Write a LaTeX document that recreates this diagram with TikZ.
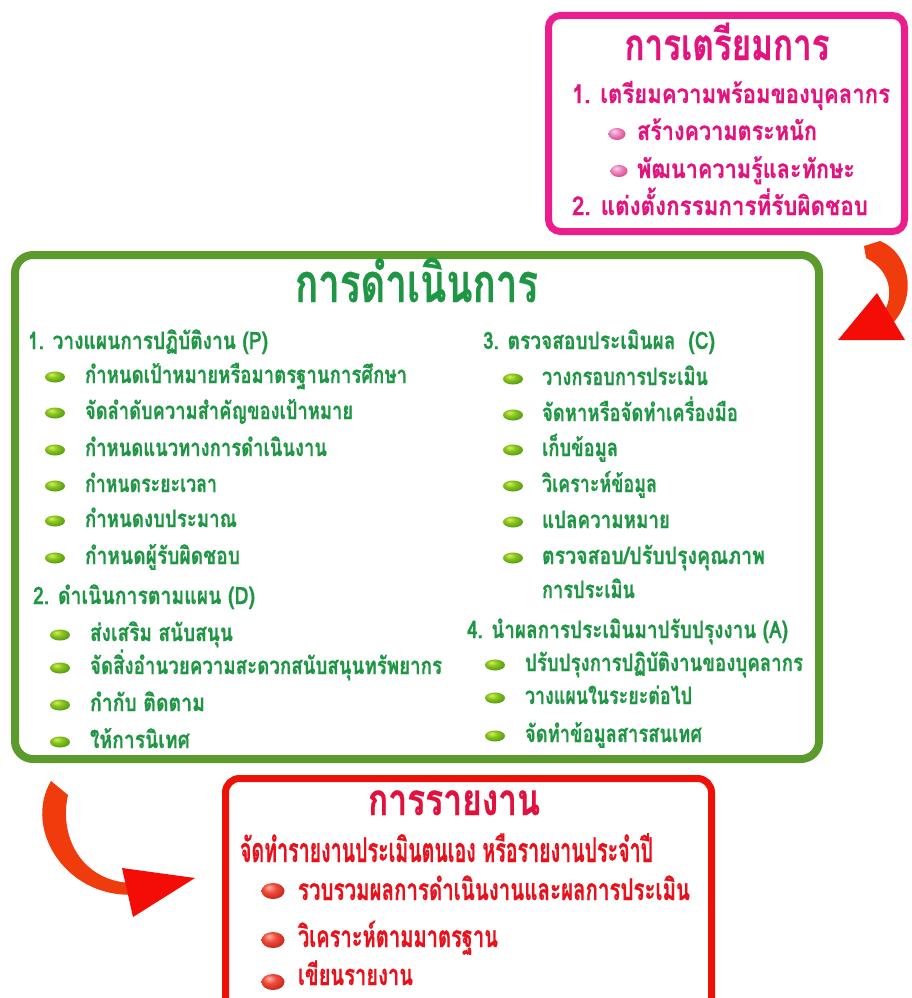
\documentclass[tikz,border=0pt]{standalone}
\usepackage{fontspec}
\usepackage{graphicx}
\usetikzlibrary{shapes.geometric}
\newfontfamily\thaib[Script=Thai, BoldFeatures={FakeBold=0.5}]{Loma}
\definecolor{pinkline}{HTML}{EC1E8E}
\definecolor{pinktext}{HTML}{E3137D}
\definecolor{greenline}{HTML}{5A9B2B}
\definecolor{greentext}{HTML}{1E9643}
\definecolor{redline}{HTML}{EE1108}
\definecolor{redtext}{HTML}{E8101A}
\definecolor{redtitle}{HTML}{E2103C}
\definecolor{arrbody}{HTML}{F03C0C}
\definecolor{arrhead}{HTML}{F40C06}
\definecolor{gbA}{HTML}{D8EE5C}
\definecolor{gbB}{HTML}{88C41C}
\definecolor{gbC}{HTML}{3F8C12}
\definecolor{pbA}{HTML}{FCDCEC}
\definecolor{pbB}{HTML}{F088BE}
\definecolor{pbC}{HTML}{D2367E}
\definecolor{rbA}{HTML}{FFB8A8}
\definecolor{rbB}{HTML}{F04C3C}
\definecolor{rbC}{HTML}{B41C12}
\pgfdeclareradialshading{gshade}{\pgfpoint{-9bp}{12bp}}{color(0bp)=(gbA); color(14bp)=(gbB); color(36bp)=(gbC); color(60bp)=(gbC)}
\pgfdeclareradialshading{pshade}{\pgfpoint{-9bp}{12bp}}{color(0bp)=(pbA); color(14bp)=(pbB); color(36bp)=(pbC); color(60bp)=(pbC)}
\pgfdeclareradialshading{rshade}{\pgfpoint{-9bp}{12bp}}{color(0bp)=(rbA); color(14bp)=(rbB); color(36bp)=(rbC); color(60bp)=(rbC)}
\newcommand\tw[2]{\resizebox{#1pt}{\height}{#2}}
\tikzset{
  txt/.style={anchor=base west, inner sep=0pt, outer sep=0pt},
  ptxt/.style={txt, text=pinktext, font=\thaib\bfseries\fontsize{26}{30}\selectfont},
  gtxt/.style={txt, text=greentext, font=\thaib\bfseries\fontsize{24}{28}\selectfont},
  rtxt/.style={txt, text=redtext, font=\thaib\bfseries\fontsize{30}{34}\selectfont},
  ttl/.style={anchor=base, inner sep=0pt, outer sep=0pt},
  gball/.style={ellipse, inner sep=0pt, minimum width=20pt, minimum height=11pt, shade, shading=gshade},
  pball/.style={ellipse, inner sep=0pt, minimum width=17pt, minimum height=12pt, shade, shading=pshade},
  rball/.style={ellipse, inner sep=0pt, minimum width=23pt, minimum height=16pt, shade, shading=rshade},
}
\begin{document}
\begin{tikzpicture}[x=1pt,y=-1pt]
\useasboundingbox (0,0) rectangle (912,998);
% boxes
\draw[pinkline, line width=7pt, rounded corners=12pt, fill=white] (548.5,15.5) rectangle (904.5,231.5);
\draw[greenline, line width=8pt, rounded corners=18pt, fill=white] (15,255) rectangle (819,759);
\draw[redline, line width=7pt, rounded corners=14pt, fill=white] (225.5,778.5) rectangle (711.5,1030);
% arrows
\fill[arrbody] (864,246) -- (880,241) .. controls (908,252) and (919,294) .. (893,323) -- (877,322) .. controls (897,300) and (892,271) .. (866,258) -- cycle;
\fill[arrhead] (877,293) -- (905,340) -- (838,340) -- cycle;
\fill[arrbody] (51,781) -- (68,795) .. controls (58,840) and (85,886) .. (140,883) -- (142,894) .. controls (68,903) and (22,830) .. (51,781) -- cycle;
\fill[arrhead] (122,868) -- (195,878) -- (133,917) -- cycle;
% pink box
\node[ttl, text=pinktext, font=\thaib\bfseries\fontsize{44}{50}\selectfont] (pt) at (727,60) {\tw{205}{การเตรียมการ}};
\node[ptxt] (p1) at (572,103) {\tw{318}{1. เตรียมความพร้อมของบุคลากร}};
\node[pball] (pb1) at (617,134) {};
\node[ptxt] (p1a) at (637,140) {\tw{180}{สร้างความตระหนัก}};
\node[pball] (pb2) at (619,171) {};
\node[ptxt] (p1b) at (637,178) {\tw{218}{พัฒนาความรู้และทักษะ}};
\node[ptxt] (p2) at (572,215) {\tw{296}{2. แต่งตั้งกรรมการที่รับผิดชอบ}};
% green box
\node[ttl, text=greentext, font=\thaib\bfseries\fontsize{54}{60}\selectfont] (gt) at (416.5,302) {\tw{243}{การดำเนินการ}};
\node[gtxt] (g1) at (28,349) {\tw{240}{1. วางแผนการปฏิบัติงาน (P)}};
\node[gball] (gb11) at (55,377) {};
\node[gtxt] (g11) at (85,383) {\tw{322}{กำหนดเป้าหมายหรือมาตรฐานการศึกษา}};
\node[gball] (gb12) at (55,413) {};
\node[gtxt] (g12) at (85,419) {\tw{268}{จัดลำดับความสำคัญของเป้าหมาย}};
\node[gball] (gb13) at (55,450) {};
\node[gtxt] (g13) at (85,456) {\tw{242}{กำหนดแนวทางการดำเนินงาน}};
\node[gball] (gb14) at (55,486) {};
\node[gtxt] (g14) at (85,492) {\tw{132}{กำหนดระยะเวลา}};
\node[gball] (gb15) at (55,521) {};
\node[gtxt] (g15) at (85,527) {\tw{152}{กำหนดงบประมาณ}};
\node[gball] (gb16) at (55,558) {};
\node[gtxt] (g16) at (85,564) {\tw{155}{กำหนดผู้รับผิดชอบ}};
\node[gtxt] (g2) at (33,604) {\tw{222}{2. ดำเนินการตามแผน (D)}};
\node[gball] (gb21) at (60,635) {};
\node[gtxt] (g21) at (90,641) {\tw{143}{ส่งเสริม สนับสนุน}};
\node[gball] (gb22) at (60,668) {};
\node[gtxt] (g22) at (90,674) {\tw{352}{จัดสิ่งอำนวยความสะดวกสนับสนุนทรัพยากร}};
\node[gball] (gb23) at (60,705) {};
\node[gtxt] (g23) at (90,711) {\tw{115}{กำกับ ติดตาม}};
\node[gball] (gb24) at (60,742) {};
\node[gtxt] (g24) at (90,748) {\tw{100}{ให้การนิเทศ}};
\node[gtxt] (g3) at (483,349) {\tw{232}{3. ตรวจสอบประเมินผล\ \ (C)}};
\node[gball] (gb31) at (513,379) {};
\node[gtxt] (g31) at (542,385) {\tw{166}{วางกรอบการประเมิน}};
\node[gball] (gb32) at (513,415) {};
\node[gtxt] (g32) at (542,421) {\tw{196}{จัดหาหรือจัดทำเครื่องมือ}};
\node[gball] (gb33) at (513,450) {};
\node[gtxt] (g33) at (542,456) {\tw{76}{เก็บข้อมูล}};
\node[gball] (gb34) at (513,486) {};
\node[gtxt] (g34) at (542,492) {\tw{115}{วิเคราะห์ข้อมูล}};
\node[gball] (gb35) at (513,522) {};
\node[gtxt] (g35) at (542,528) {\tw{128}{แปลความหมาย}};
\node[gball] (gb36) at (513,558) {};
\node[gtxt] (g36) at (542,564) {\tw{223}{ตรวจสอบ/ปรับปรุงคุณภาพ}};
\node[gtxt] (g36b) at (542,598) {\tw{93}{การประเมิน}};
\node[gtxt] (g4) at (467,638) {\tw{321}{4. นำผลการประเมินมาปรับปรุงงาน (A)}};
\node[gball] (gb41) at (495,665) {};
\node[gtxt] (g41) at (525,671) {\tw{278}{ปรับปรุงการปฏิบัติงานของบุคลากร}};
\node[gball] (gb42) at (495,698) {};
\node[gtxt] (g42) at (525,704) {\tw{167}{วางแผนในระยะต่อไป}};
\node[gball] (gb43) at (495,736) {};
\node[gtxt] (g43) at (525,742) {\tw{177}{จัดทำข้อมูลสารสนเทศ}};
% red box
\node[ttl, text=redtitle, font=\thaib\bfseries\fontsize{44}{50}\selectfont] (rt) at (454,815) {\tw{172}{การรายงาน}};
\node[rtxt, font=\thaib\bfseries\fontsize{34}{38}\selectfont] (r0) at (240,862) {\tw{413}{จัดทำรายงานประเมินตนเอง หรือรายงานประจำปี}};
\node[rball] (rb1) at (273,891) {};
\node[rtxt] (r1) at (298,900) {\tw{392}{รวบรวมผลการดำเนินงานและผลการประเมิน}};
\node[rball] (rb2) at (273,940) {};
\node[rtxt] (r2) at (298,947) {\tw{200}{วิเคราะห์ตามมาตรฐาน}};
\node[rball] (rb3) at (273,982) {};
\node[rtxt, font=\thaib\bfseries\fontsize{29}{33}\selectfont] (r3) at (298,985) {\tw{115}{เขียนรายงาน}};
\end{tikzpicture}
\end{document}
